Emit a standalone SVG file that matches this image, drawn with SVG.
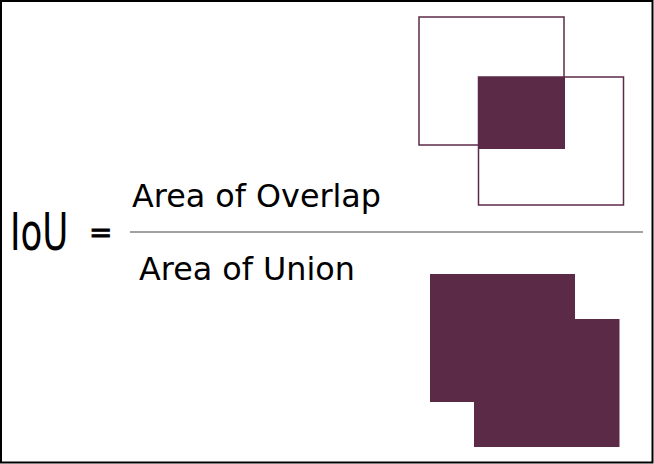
<svg xmlns="http://www.w3.org/2000/svg" width="654" height="464" viewBox="0 0 654 464">
<style>
.t{font-family:"DejaVu Sans","Noto Sans",sans-serif;fill:#000;}
.box{fill:none;stroke:#5b2a47;stroke-width:1.5;}
.fill{fill:#5b2a47;}
</style>
<rect x="0" y="0" width="654" height="464" fill="#fff"/>
<rect x="1" y="1" width="651.5" height="461.5" fill="none" stroke="#000" stroke-width="2"/>
<g id="formula">
<text class="t" transform="translate(10,250) scale(0.7,1)" font-size="51">IoU</text>
<text class="t" x="89" y="242" font-size="28" stroke="#000" stroke-width="0.8">=</text>
<line x1="130" y1="232" x2="643" y2="232" stroke="#444" stroke-width="1.2"/>
<text class="t" x="132" y="207" font-size="31.8">Area of Overlap</text>
<text class="t" x="139" y="280" font-size="31.8">Area of Union</text>
</g>
<g id="overlap">
<rect class="fill" x="478" y="77" width="87" height="72"/>
<rect class="box" x="419" y="17" width="145" height="128"/>
<rect class="box" x="478.5" y="77" width="145" height="128"/>
</g>
<g id="union">
<path class="fill" d="M430,274 H575 V319 H619.5 V447 H474 V402 H430 Z"/>
</g>
</svg>
